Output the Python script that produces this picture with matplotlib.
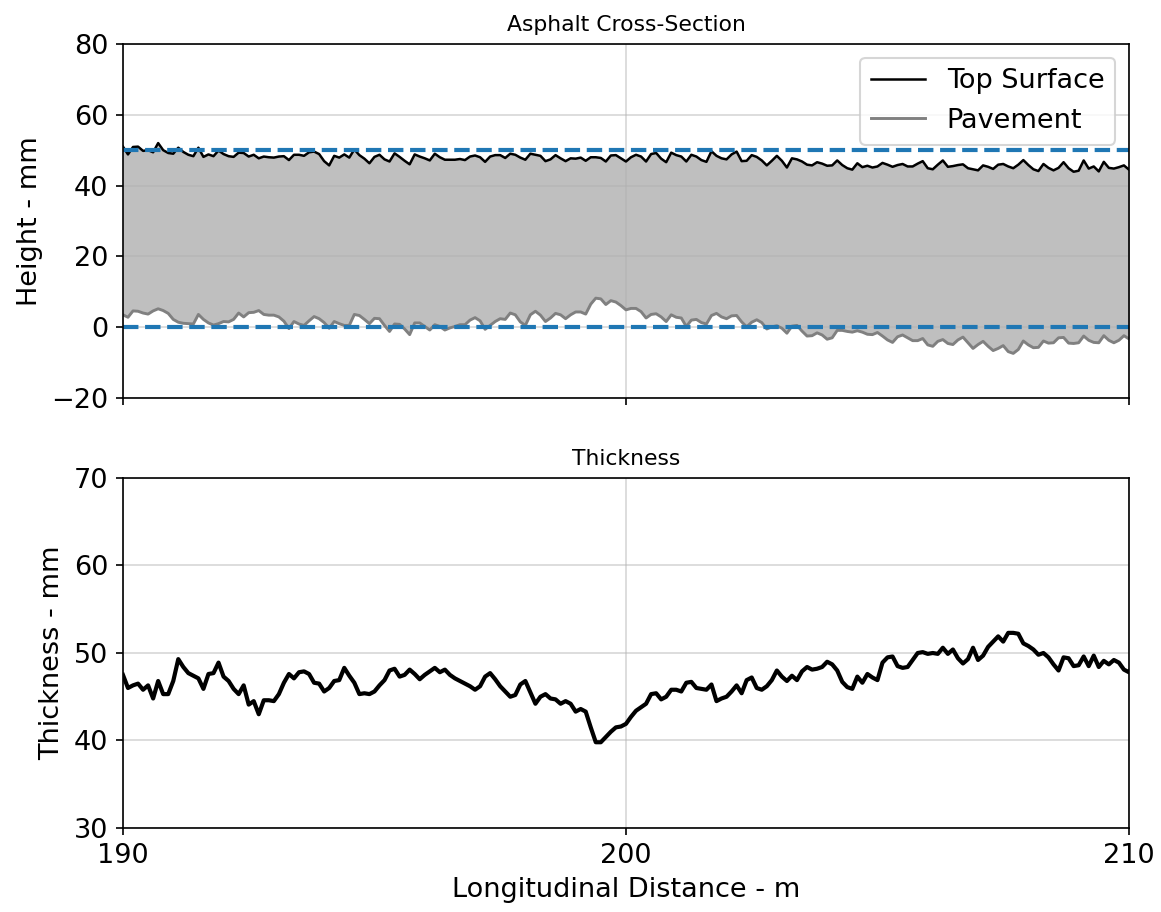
import numpy as np
import matplotlib
matplotlib.use('Agg')
import matplotlib.pyplot as plt

# survey stations, every 0.1 m
distance = np.linspace(190.0, 210.1, 202)

# bottom of the asphalt layer (mm)
pavement = [
    3.5, 2.8, 4.6, 4.5, 4.0, 3.7, 4.6, 5.2, 4.7, 3.9,
    2.2, 1.4, 1.1, 1.0, 0.9, 3.6, 2.2, 1.2, 0.6, 1.0,
    1.6, 1.5, 2.2, 4.0, 2.9, 4.1, 4.2, 4.7, 3.6, 3.4,
    3.4, 2.9, 1.7, -0.4, 1.6, 0.9, 0.5, 1.8, 3.0, 2.4,
    1.3, -0.3, 1.6, 1.0, 0.5, 0.5, 3.6, 3.3, 2.2, 1.0,
    2.5, 2.4, 0.5, -1.2, 0.9, 0.8, -0.5, -2.1, 1.2, 1.2,
    0.2, -0.8, 0.7, 0.2, -0.8, -0.2, 0.2, 0.7, 0.7, 2.0,
    2.7, 1.8, -0.6, 0.5, 1.6, 2.4, 2.2, 4.0, 3.5, 1.5,
    0.5, 3.5, 4.5, 3.4, 1.6, 2.6, 3.9, 3.5, 2.4, 3.5,
    4.3, 4.3, 3.7, 6.5, 8.2, 8.0, 6.4, 7.5, 7.1, 6.1,
    4.9, 5.3, 5.3, 4.4, 2.6, 3.6, 3.8, 2.9, 1.6, 3.5,
    2.8, 2.6, 0.2, 2.0, 2.2, 1.3, 0.9, 3.3, 3.9, 2.9,
    2.4, 3.2, 3.3, 1.5, 0.1, 1.4, 2.1, 1.3, -0.5, 0.1,
    0.4, -0.3, -1.7, 0.3, 0.5, -1.1, -2.5, -2.4, -1.6, -2.2,
    -3.4, -3.0, -0.9, -0.9, -1.2, -1.4, -1.0, -1.4, -2.0, -2.1,
    -1.5, -2.5, -3.6, -4.3, -2.7, -2.2, -3.0, -3.8, -3.8, -3.2,
    -5.0, -5.4, -4.0, -3.5, -4.6, -4.9, -3.6, -2.8, -4.4, -6.0,
    -4.9, -4.0, -5.4, -6.6, -6.0, -5.2, -6.9, -7.4, -6.3, -3.9,
    -5.0, -5.8, -5.7, -3.9, -4.5, -4.4, -3.0, -2.9, -4.5, -4.6,
    -4.4, -2.5, -3.7, -4.3, -4.4, -2.4, -3.7, -4.4, -3.7, -2.4,
    -3.3, -4.4,
]

# layer thickness (mm)
thickness = [
    47.5, 46.0, 46.3, 46.5, 45.8, 46.3, 44.8, 46.8, 45.3, 45.3,
    46.8, 49.3, 48.4, 47.7, 47.4, 47.1, 45.9, 47.6, 47.7, 48.9,
    47.3, 46.8, 45.9, 45.3, 46.3, 44.1, 44.5, 43.0, 44.6, 44.6,
    44.5, 45.3, 46.6, 47.6, 47.1, 47.8, 47.9, 47.6, 46.6, 46.5,
    45.6, 46.0, 46.8, 46.9, 48.3, 47.4, 46.6, 45.3, 45.4, 45.3,
    45.6, 46.3, 46.9, 48.0, 48.2, 47.3, 47.5, 48.1, 47.6, 47.0,
    47.5, 47.9, 48.3, 47.8, 48.1, 47.5, 47.1, 46.8, 46.5, 46.2,
    45.8, 46.2, 47.3, 47.7, 47.0, 46.2, 45.6, 45.0, 45.2, 46.4,
    46.8, 45.5, 44.2, 45.0, 45.3, 44.8, 44.7, 44.2, 44.5, 44.2,
    43.3, 43.6, 43.3, 41.5, 39.8, 39.8, 40.4, 41.0, 41.5, 41.6,
    41.9, 42.7, 43.4, 43.8, 44.2, 45.3, 45.4, 44.7, 45.0, 45.8,
    45.8, 45.6, 46.6, 46.7, 46.0, 45.9, 45.8, 46.4, 44.5, 44.8,
    45.0, 45.6, 46.3, 45.4, 46.9, 47.2, 46.0, 45.8, 46.2, 46.9,
    48.0, 47.3, 46.8, 47.4, 46.9, 47.9, 48.4, 48.1, 48.2, 48.4,
    49.0, 48.7, 48.0, 46.7, 46.1, 45.9, 47.3, 46.6, 47.6, 47.2,
    46.9, 48.9, 49.5, 49.6, 48.5, 48.3, 48.4, 49.2, 50.0, 50.1,
    49.9, 50.0, 49.9, 50.6, 49.9, 50.4, 49.4, 48.8, 49.3, 50.6,
    49.2, 49.7, 50.7, 51.3, 51.9, 51.3, 52.3, 52.3, 52.2, 51.1,
    50.8, 50.4, 49.8, 50.0, 49.5, 48.7, 48.0, 49.5, 49.4, 48.5,
    48.6, 49.6, 48.5, 49.7, 48.4, 49.1, 48.7, 49.2, 48.9, 48.1,
    47.8, 48.8,
]

design_levels = [0, 50]

pavement = np.array(pavement)
thickness = np.array(thickness)
top_surface = pavement + thickness

fig = plt.figure(figsize=(7.74, 6.08), dpi=150)
ax1 = fig.add_axes([0.1059, 0.5636, 0.8665, 0.3882])
ax2 = fig.add_axes([0.1059, 0.0921, 0.8665, 0.3838], sharex=ax1)

# cross-section
ax1.fill_between(distance, pavement, top_surface, color='gray', alpha=0.5, linewidth=0)
ax1.plot(distance, top_surface, color='black', linewidth=1.2, label='Top Surface')
ax1.plot(distance, pavement, color='gray', linewidth=1.4, label='Pavement')
for lvl in design_levels:
    ax1.axhline(lvl, color='tab:blue', linestyle='--', linewidth=2)
ax1.set_ylim(-20, 80)
ax1.set_yticks([-20, 0, 20, 40, 60, 80])
ax1.set_ylabel('Height - mm', fontsize=13)
ax1.set_title('Asphalt Cross-Section', fontsize=10.5)
ax1.grid(alpha=0.5)
ax1.legend(loc='upper right', fontsize=13)
ax1.tick_params(labelsize=13, labelbottom=False)

# thickness
ax2.plot(distance, thickness, color='black', linewidth=2)
ax2.set_ylim(30, 70)
ax2.set_yticks([30, 40, 50, 60, 70])
ax2.set_xlim(190, 210)
ax2.set_xticks([190, 200, 210])
ax2.set_ylabel('Thickness - mm', fontsize=13)
ax2.set_xlabel('Longitudinal Distance - m', fontsize=13)
ax2.set_title('Thickness', fontsize=10.5)
ax2.grid(alpha=0.5)
ax2.tick_params(labelsize=13)

fig.savefig('out.png', dpi=150)
